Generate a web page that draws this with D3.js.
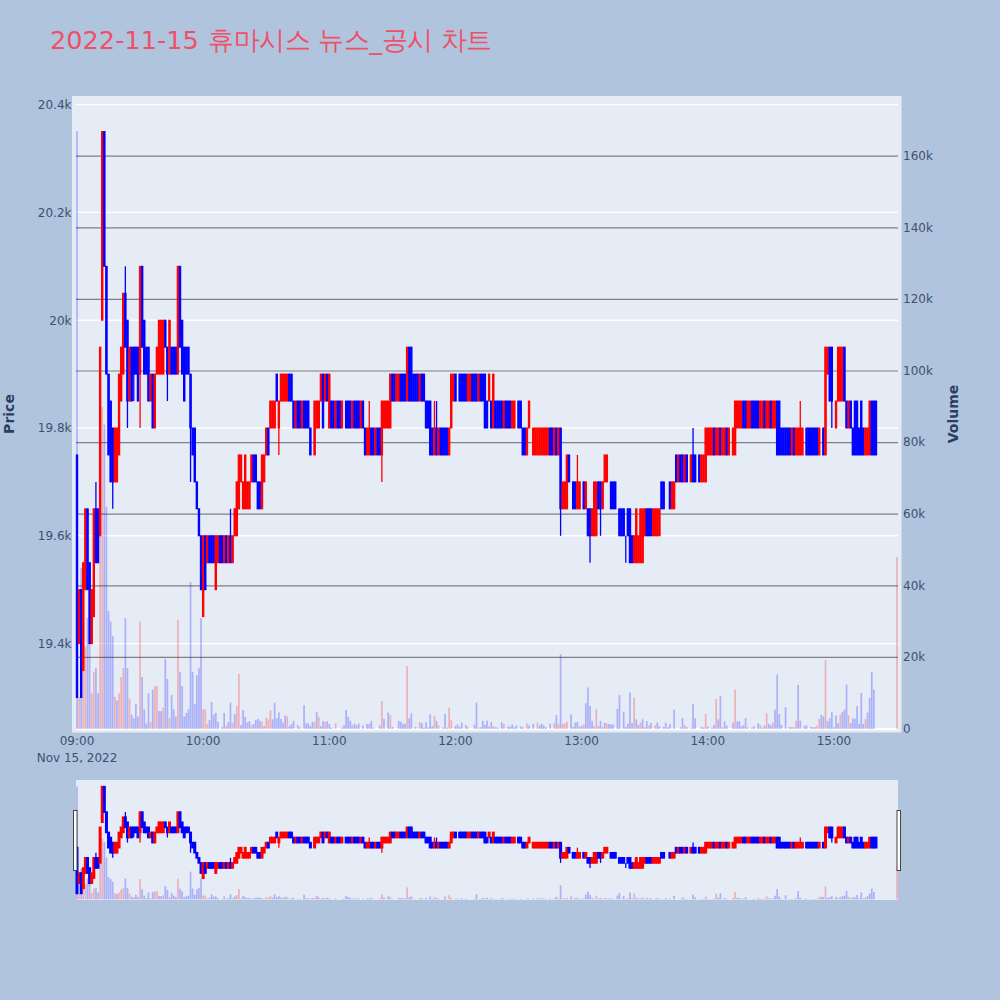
<!DOCTYPE html>
<html><head><meta charset="utf-8">
<script src="https://cdn.jsdelivr.net/npm/d3@7/dist/d3.min.js"></script>
<style>html,body{margin:0;padding:0;background:#b0c4de}svg{display:block}text{font-family:"DejaVu Sans",Verdana,sans-serif}</style>
</head><body><svg id="c" width="1000" height="1000"></svg>
<script>
const titleDate="2022-11-15";
const titleName=" 휴마시스 뉴스_공시 차트";
const priceTicks=[19400,19600,19800,20000,20200,20400];
const volumeTicks=[0,20000,40000,60000,80000,100000,120000,140000,160000];
const hourTicks=[0,60,120,180,240,300,360];
const hourLabels=["09:00","10:00","11:00","12:00","13:00","14:00","15:00"];
const opens=[19750,19400,19500,19350,19500,19650,19550,19400,19450,19650,19650,19600,20000,20350,20100,19900,19850,19800,19700,19700,
19750,19850,19900,20050,20000,19850,19950,19950,19950,19950,19900,20100,20000,19950,19950,19850,19900,19800,19900,19900,
19900,19900,20000,19950,19900,19950,19950,19950,19900,20100,20000,19950,19950,19950,19900,19800,19800,19700,19650,19600,
19450,19600,19550,19600,19600,19600,19500,19550,19600,19600,19550,19600,19550,19600,19550,19600,19600,19650,19700,19650,
19650,19650,19650,19700,19750,19750,19700,19700,19650,19700,
19750,19800,19800,19800,19800,19900,19800,19850,19850,19850,
19850,19900,19900,19850,19800,19850,19850,19800,19850,19850,
19850,19800,19750,19750,19800,19800,19850,19900,19850,19900,
19800,19850,19850,19800,19850,19850,19800,19800,19850,19850,
19850,19800,19850,19850,19850,19800,19850,19800,19750,19750,
19800,19800,19750,19800,19800,19750,19800,19800,19800,19800,
19900,19900,19850,19850,19900,19900,19900,19850,19950,19950,
19900,19900,19900,19850,19900,19900,19850,19850,19850,19800,
19750,19800,19750,19800,19800,19800,19800,19750,19800,19850,
19900,19850,19900,19900,19900,19900,19850,19850,19900,19900,
19900,19850,19900,19900,19900,19850,19850,19850,19800,19850,
19850,19850,19850,19800,19850,19850,19850,19800,19800,19800,
19850,19850,19800,19800,19750,19800,19800,19750,19750,19750,
19750,19750,19750,19750,19750,19800,19800,19750,19800,19750,
19800,19650,19650,19650,19750,19700,19700,19700,19650,19650,
19700,19700,19650,19650,19650,19600,19600,19600,19700,19700,
19650,19700,19700,19700,19700,19700,19700,19650,19650,19650,
19650,19600,19650,19650,19600,19550,19550,19550,19550,19550,
19600,19650,19650,19650,19600,19600,19600,19600,19700,19700,
19650,19650,19700,19650,19650,19750,19700,19750,19750,19700,
19750,19700,19700,19750,19750,19700,19750,19700,19700,19700,
19750,19750,19750,19800,19750,19750,19800,19750,19750,19800,
19750,19800,19750,19750,19800,19800,19800,19850,19850,19800,
19800,19850,19850,19850,19850,19800,19800,19850,19800,19800,
19850,19800,19800,19850,19850,19800,19800,19800,19800,19800,
19750,19800,19750,19750,19750,19750,19750,19800,19800,19800,
19800,19800,19800,19750,19750,19800,19750,19900,19950,19950,
19850,19800,19850,19850,19850,19950,19850,19800,19850,19800,
19850,19850,19800,19850,19800,19750,19750,19750,19850,19850,19850];
const closes=[19300,19500,19300,19550,19650,19500,19400,19500,19650,19550,19550,19950,20350,20100,19900,19750,19700,19700,19800,19800,
19900,19950,20050,19950,19850,19950,19850,19900,19900,19850,20100,19950,19900,19900,19850,19900,19800,19900,19950,20000,
20000,20000,19950,19900,20000,19900,19900,19900,20100,19950,19900,19850,19900,19900,19800,19750,19700,19650,19600,19500,
19600,19500,19600,19550,19550,19550,19600,19600,19550,19550,19600,19550,19600,19550,19600,19650,19700,19750,19750,19700,
19750,19700,19700,19750,19700,19700,19650,19650,19750,19750,
19800,19750,19850,19850,19850,19850,19850,19900,19900,19900,
19900,19850,19850,19800,19850,19800,19800,19850,19800,19800,
19800,19750,19750,19850,19850,19850,19900,19800,19900,19850,
19900,19800,19800,19850,19800,19800,19850,19800,19800,19800,
19800,19850,19800,19800,19800,19850,19800,19750,19800,19800,
19750,19750,19800,19750,19750,19850,19850,19850,19850,19900,
19850,19850,19900,19900,19850,19850,19850,19950,19850,19850,
19850,19850,19850,19900,19850,19850,19800,19800,19750,19750,
19800,19750,19800,19750,19750,19750,19750,19800,19900,19900,
19850,19850,19850,19850,19850,19850,19900,19900,19850,19850,
19850,19900,19850,19850,19800,19800,19900,19800,19900,19800,
19800,19800,19800,19850,19800,19800,19800,19850,19850,19800,
19800,19800,19750,19750,19800,19850,19800,19800,19800,19800,
19800,19800,19800,19800,19800,19750,19750,19800,19750,19800,
19650,19700,19700,19750,19700,19700,19650,19650,19700,19700,
19700,19650,19700,19600,19600,19650,19700,19700,19650,19650,
19700,19750,19750,19700,19650,19650,19650,19650,19600,19600,
19600,19600,19600,19550,19550,19600,19650,19600,19650,19650,
19650,19600,19600,19600,19650,19650,19650,19650,19650,19650,
19650,19650,19650,19700,19700,19700,19750,19700,19700,19750,
19700,19700,19750,19700,19700,19700,19700,19750,19750,19800,
19800,19800,19800,19750,19800,19800,19750,19800,19800,19750,
19800,19800,19800,19850,19850,19850,19850,19800,19800,19850,
19850,19800,19800,19800,19800,19850,19850,19800,19850,19850,
19800,19850,19850,19750,19750,19750,19750,19750,19750,19750,
19800,19750,19800,19800,19800,19800,19750,19750,19750,19750,
19750,19750,19750,19800,19750,19750,19950,19950,19850,19850,
19850,19850,19950,19950,19950,19850,19800,19850,19800,19750,
19750,19750,19750,19750,19750,19800,19800,19850,19750,19750,19750];
const highWicks=[[9,19700],[23,20100],[73,19650],[139,19850],[170,19850],[171,19850],[215,19850],[238,19750],[293,19800],[344,19850]];
const lowWicks=[[17,19650],[24,19800],[27,19850],[30,19800],[43,19850],[54,19700],[96,19750],[145,19700],[230,19600],[244,19550],[249,19600],[261,19550],[359,19800]];
const volumes=[167,9,45,23,23,31,24,10,16,17,10,70,90,85,62,33,30,26,9,8,
10,14.5,17,31,17,8.5,4,3,7,3.5,30,14.5,5.5,1.5,10,2,11,12,12,5,
5,6,19.5,14,3,9.5,5.5,3.5,30.5,16,12,3.5,4.5,5.5,41,16,7,15,17,31,
5.5,5.5,1.5,2.5,7.5,4,4.5,2,0,0.5,4.5,1,2,7.4,1.6,4.2,6.4,15.4,1.1,5.3,
3.4,1.8,2.2,1.1,1.4,2.5,2.8,2.3,2,0.8,3.2,2.7,5.3,2.7,7.4,3,4.6,2.8,1.8,3.8,
3.6,0.8,1.4,2.3,0,1.1,0.5,0,6.7,1.6,1.6,0.8,2,2,4.8,3.4,0.8,2.2,2,2.2,
1.4,0.4,0,1.6,0,0,0.4,1.1,5.3,3.4,2.3,1.1,1.5,1,1.5,0,1,0,1.4,1.4,
2.2,0.4,0,0,1,7.8,2.8,0,4.6,3.9,0.6,0,0,2.3,2,1.5,1.5,17.6,3,4.4,
0,0.6,0,2,1.6,0.4,1.9,0.4,4.1,0.8,3.6,2.3,1,0,0.4,4.2,0.4,6,2.5,0,
0.9,1.3,0.6,1.8,0,1.1,0.5,0,0,1.2,7.4,0.4,0.5,2.3,1.1,2.3,0.6,1.9,0.8,0.5,
0.4,0,1.9,1.4,0,0.7,0.6,1.3,0.5,1,0,0.7,0.5,0,1.6,1,0,1.4,0,1.8,
1,1.5,1,0.5,0,1.5,0,1.6,3.9,1.4,20.9,1.5,1.5,2,0,4.1,0.6,1.8,2,0.6,
0.9,1.3,7.2,11.6,6.4,2.3,0.8,5.5,0.8,2.3,0.6,1.8,1.5,1.4,1.3,1.2,0,5.6,9.5,0,
4.8,0.6,1.5,10.2,1.6,8.8,2.7,1.1,1.8,2.7,0.5,2.2,1,1.7,0,1,1.8,0.8,0,0.6,
1.8,0.5,1.4,0,5.4,0,0,0.5,3,1.1,0.6,0,0.4,7,3,0,0,0.6,0.4,4.2,
0.7,0,0.4,1.1,8.4,2.7,9.2,0.5,2.1,1,0,0,1.8,11,2.1,2.2,0.7,1,3,0.5,
0,0.4,0.8,0,1.6,1.1,0.4,1,4.4,1.4,1.1,1.8,5.4,15.2,4.2,1.2,0,6.1,0,0.6,
0.5,0.5,2.3,12.3,2.3,0,0.9,1,0,0.6,0.5,0.5,0.9,2.8,3.9,3.5,19.3,2.2,3,4.7,
0.5,3.8,1.6,3.9,4.7,5.4,12.4,3.8,1.6,3,2.9,6.4,1.5,10.1,1.4,2.8,4.6,8.7,16,11,
0];
const redVolumeMinutes=[1,3,4,7,8,11,12,18,20,21,22,25,30,35,37,38,41,44,48,60,61,62,71,74,76,77,83,88,90,91,92,100,113,115,118,123,131,145,149,157,163,170,172,177,178,186,191,198,203,214,219,227,229,231,232,233,241,246,247,250,252,265,268,272,275,289,292,299,304,307,313,319,325,328,331,341,342,352,353,356,363,367,375];
const lastMinute=390, lastPrice=19800, lastVolume=48;

const PAGE={w:1000,h:1000}, TXT="#2a3f5f", TICK="#3f5070", BG="#e5ecf6";
const plot={l:72,r:901.5,t:96,b:732.5}, inner={l:76,r:898};
const nav={t:780,b:900};
const x=d3.scaleLinear().domain([0,390]).range([77,897]);
const priceDomain=[19800-(plot.b-428)/0.539,19800+(428-plot.t)/0.539];
const yP=d3.scaleLinear().domain(priceDomain).range([plot.b,plot.t]);
const volDomain=[-(plot.b-729)/3.58,(729-plot.t)/3.58];
const yV=d3.scaleLinear().domain(volDomain).range([plot.b,plot.t]);
const nP=d3.scaleLinear().domain(priceDomain).range([nav.b,nav.t]);
const nV=d3.scaleLinear().domain(volDomain).range([nav.b,nav.t]);

const hi=new Map(highWicks), lo=new Map(lowWicks), redV=new Set(redVolumeMinutes);
const rows=opens.map((o,i)=>{const c=closes[i];return{m:i,o,c,h:hi.get(i)??Math.max(o,c),l:lo.get(i)??Math.min(o,c),v:volumes[i]||0,rv:redV.has(i)}});
rows.push({m:lastMinute,o:lastPrice,c:lastPrice,h:lastPrice,l:lastPrice,v:lastVolume,rv:true});

const svg=d3.select("#c");
svg.append("rect").attr("width",PAGE.w).attr("height",PAGE.h).attr("fill","#b0c4de");
const title=svg.append("text").attr("x",50).attr("y",49).attr("font-size",25.6).attr("fill","#ef5068");
title.append("tspan").text(titleDate);
title.append("tspan").text(titleName).attr("dx",1.5).attr("letter-spacing",-0.4);
svg.append("rect").attr("x",plot.l).attr("y",plot.t).attr("width",plot.r-plot.l).attr("height",plot.b-plot.t).attr("fill",BG);

svg.append("g").selectAll("line").data(priceTicks).join("line")
 .attr("x1",inner.l).attr("x2",inner.r).attr("y1",d=>yP(d)).attr("y2",d=>yP(d)).attr("stroke","#fff").attr("stroke-width",1.4);
svg.append("line").attr("x1",inner.l).attr("x2",inner.r).attr("y1",yV(0)).attr("y2",yV(0)).attr("stroke","#fff").attr("stroke-width",2);
svg.append("g").selectAll("line").data(volumeTicks.slice(1)).join("line")
 .attr("x1",inner.l).attr("x2",inner.r).attr("y1",d=>yV(d/1000)).attr("y2",d=>yV(d/1000)).attr("stroke","#808080").attr("stroke-width",1.2);

function candles(g,yp,sw){
 const col=d=>d.c>d.o?"#ff0000":(d.c<d.o?"#0000ff":(d.rv?"#ff0000":"#0000ff"));
 const s=g.selectAll("g").data(rows).join("g").attr("stroke",col).attr("fill",col);
 s.append("line").attr("x1",d=>x(d.m)).attr("x2",d=>x(d.m)).attr("y1",d=>yp(d.h)).attr("y2",d=>yp(d.l)).attr("stroke-width",1.3);
 s.append("rect").attr("x",d=>x(d.m)-0.7).attr("width",1.4)
  .attr("y",d=>yp(Math.max(d.o,d.c))).attr("height",d=>Math.abs(yp(d.o)-yp(d.c))).attr("stroke-width",sw);
}
function volBars(g,yv){
 g.selectAll("rect").data(rows).join("rect")
  .attr("x",d=>x(d.m)-0.85).attr("width",1.7)
  .attr("y",d=>yv(d.v)).attr("height",d=>Math.max(0,yv(0)-yv(d.v)))
  .attr("fill",d=>d.rv?"#ff0000":"#0000ff").attr("opacity",0.25);
}
candles(svg.append("g"),yP,1);
volBars(svg.append("g"),yV);

const style=(g)=>{g.select(".domain").remove();g.selectAll("text").attr("fill",TICK).attr("font-size",12).style("font-family",'"DejaVu Sans"');};
svg.append("g").attr("transform",`translate(${plot.l-0.5},0)`)
 .call(d3.axisLeft(yP).tickValues(priceTicks).tickSize(0).tickPadding(0).tickFormat(d=>(d/1000)+"k")).call(style);
svg.append("g").attr("transform",`translate(${plot.r+1.5},-0.5)`)
 .call(d3.axisRight(d3.scaleLinear().domain(yV.domain().map(v=>v*1000)).range(yV.range())).tickValues(volumeTicks).tickSize(0).tickPadding(0).tickFormat(d=>d===0?"0":(d/1000)+"k")).call(style);
svg.append("g").attr("transform",`translate(-0.5,736.5)`)
 .call(d3.axisBottom(x).tickValues(hourTicks).tickSize(0).tickPadding(0).tickFormat((d,i)=>hourLabels[i])).call(style);
svg.append("text").text("Nov 15, 2022").attr("x",x(0)).attr("y",761.5).attr("text-anchor","middle").attr("font-size",12).attr("fill",TICK);
svg.append("text").text("Price").attr("transform","translate(14,414) rotate(-90)").attr("text-anchor","middle").attr("font-size",14).attr("font-weight","bold").attr("fill",TXT);
svg.append("text").text("Volume").attr("transform","translate(958,414) rotate(-90)").attr("text-anchor","middle").attr("font-size",14).attr("font-weight","bold").attr("fill",TXT);

svg.append("rect").attr("x",inner.l).attr("y",nav.t).attr("width",inner.r-inner.l).attr("height",nav.b-nav.t).attr("fill",BG);
candles(svg.append("g"),nP,1.6);
volBars(svg.append("g"),nV);
[inner.l-2.5,inner.r-1].forEach(hx=>svg.append("rect").attr("x",hx).attr("y",810.5).attr("width",3.5).attr("height",60)
 .attr("fill","#fff").attr("stroke","#444").attr("stroke-width",1));
</script></body></html>
